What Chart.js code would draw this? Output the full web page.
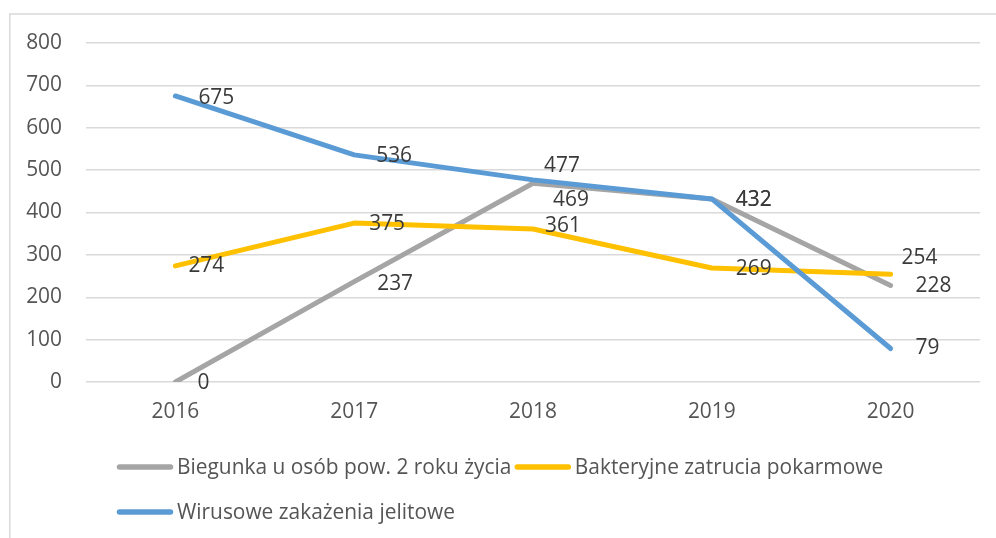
<!DOCTYPE html>
<html>
<head>
<meta charset="utf-8">
<script src="https://cdn.jsdelivr.net/npm/chart.js@4/dist/chart.umd.min.js"></script>
<style>
  html, body { margin: 0; padding: 0; background: #ffffff; }
  #wrap { width: 996px; height: 538px; position: relative; }
</style>
</head>
<body>
<div id="wrap"><canvas id="c" width="996" height="538"></canvas></div>
<script>
// ---- data ----
const years = ['2016', '2017', '2018', '2019', '2020'];
const biegunka = [0, 237, 469, 432, 228];
const bakteryjne = [274, 375, 361, 269, 254];
const wirusowe = [675, 536, 477, 432, 79];
const seriesNames = ['Biegunka u osób pow. 2 roku życia', 'Bakteryjne zatrucia pokarmowe', 'Wirusowe zakażenia jelitowe'];
const yMin = 0, yMax = 800, yStep = 100;

// ---- label placement (text left offset dx, vertical centre offset dy from point) ----
const offBiegunka   = [[22, 1], [23, 2], [20, 17], [24, 1], [25, 1]];
const offBakteryjne = [[13, 0], [15, 1], [12, -3], [24, 1], [11, -16]];
const offWirusowe   = [[23, 2], [22, 1], [11, -14], [24, 1], [25, 0]];

const FONT = '"Open Sans", "Noto Sans", sans-serif';
const FSIZE = 20.9;
const TXT = '#555555';
const LBL = '#3a3a3a';
const colors = ['#A5A5A5', '#FFC000', '#5B9BD5'];

const frame = {
  id: 'frame',
  beforeDraw(chart) {
    const ctx = chart.ctx;
    ctx.save();
    ctx.strokeStyle = '#d9d9d9';
    ctx.lineWidth = 1.5;
    ctx.beginPath();
    ctx.moveTo(9.75, 600);
    ctx.lineTo(9.75, 14);
    ctx.lineTo(1200, 14);
    ctx.stroke();
    ctx.restore();
  }
};

const dataLabels = {
  id: 'dataLabels',
  afterDatasetsDraw(chart) {
    const ctx = chart.ctx;
    ctx.save();
    ctx.font = FSIZE + 'px ' + FONT;
    ctx.fillStyle = LBL;
    ctx.textAlign = 'left';
    ctx.textBaseline = 'middle';
    chart.data.datasets.forEach((ds, i) => {
      const meta = chart.getDatasetMeta(i);
      meta.data.forEach((pt, j) => {
        const o = ds.labelOffsets[j];
        ctx.fillText(String(ds.data[j]), pt.x + o[0], pt.y + o[1]);
      });
    });
    ctx.restore();
  }
};

const customLegend = {
  id: 'customLegend',
  afterDraw(chart) {
    const ctx = chart.ctx;
    ctx.save();
    ctx.font = FSIZE + 'px ' + FONT;
    ctx.textBaseline = 'middle';
    ctx.textAlign = 'left';
    const rows = [[0, 1], [2]];
    const rowY = [467, 512];
    const startX = 119.5;
    rows.forEach((row, r) => {
      let x = startX;
      row.forEach(idx => {
        const ds = chart.data.datasets.find(d => d.legendIndex === idx);
        ctx.strokeStyle = ds.borderColor;
        ctx.lineWidth = 5.5;
        ctx.lineCap = 'round';
        ctx.beginPath();
        ctx.moveTo(x, rowY[r]);
        ctx.lineTo(x + 51, rowY[r]);
        ctx.stroke();
        ctx.fillStyle = TXT;
        const tx = x + 57.5;
        ctx.fillText(ds.label, tx, rowY[r] + 1);
        x = tx + ctx.measureText(ds.label).width + 6;
      });
    });
    ctx.restore();
  }
};

const mk = (label, data, color, offs, legendIndex, order) => ({
  label, data, borderColor: color, backgroundColor: color,
  borderWidth: 5, pointRadius: 0, tension: 0,
  borderCapStyle: 'round', borderJoinStyle: 'round',
  labelOffsets: offs, legendIndex, order
});

new Chart(document.getElementById('c'), {
  type: 'line',
  data: {
    labels: years,
    datasets: [
      mk(seriesNames[0], biegunka, colors[0], offBiegunka, 0, 2),
      mk(seriesNames[1], bakteryjne, colors[1], offBakteryjne, 1, 1),
      mk(seriesNames[2], wirusowe, colors[2], offWirusowe, 2, 0)
    ]
  },
  options: {
    responsive: false,
    animation: false,
    events: [],
    layout: { padding: { left: 0, right: 16, top: 43, bottom: 106 } },
    plugins: { legend: { display: false }, tooltip: { enabled: false } },
    scales: {
      x: {
        offset: true,
        grid: { display: false, drawTicks: false },
        border: { display: false },
        ticks: { color: TXT, font: { family: FONT, size: FSIZE }, padding: 18, maxRotation: 0 },
        afterFit(s) { s.height = 50; }
      },
      y: {
        min: yMin, max: yMax,
        grid: { color: '#d9d9d9', lineWidth: 1.5, drawTicks: false },
        border: { display: false },
        ticks: { stepSize: yStep, color: TXT, font: { family: FONT, size: FSIZE }, padding: 24 },
        afterFit(s) { s.width = 86; }
      }
    }
  },
  plugins: [frame, dataLabels, customLegend]
});
</script>
</body>
</html>
